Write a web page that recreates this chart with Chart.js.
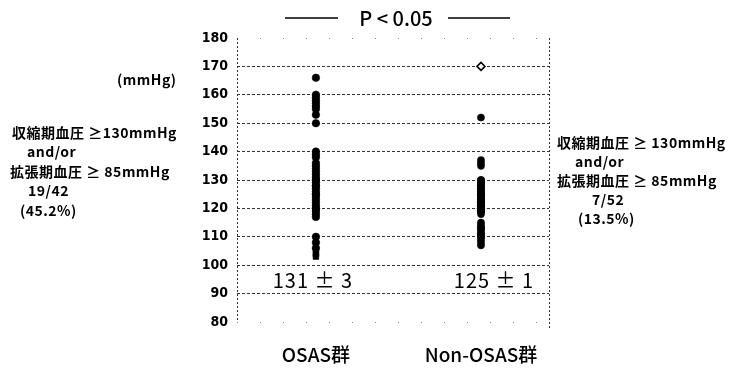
<!DOCTYPE html>
<html>
<head>
<meta charset="utf-8">
<script src="https://cdn.jsdelivr.net/npm/chart.js@4.4.1/dist/chart.umd.min.js"></script>
<style>
  html, body { margin: 0; padding: 0; background: #fff; }
</style>
</head>
<body>
<canvas id="myChart" width="732" height="370"></canvas>
<script>
// categories and tick range
var groups = ['OSAS群', 'Non-OSAS群'];
var yMin = 80, yMax = 180, yStep = 10;

// systolic BP (mmHg)
var osasValues = [166, 160, 159, 158, 157, 156, 155, 153, 150,
  140, 139, 138, 136, 135, 134, 133, 132, 131, 130, 130,
  129, 128, 128, 127, 126, 125, 125, 124, 123, 122, 121, 120, 120, 119, 118, 117,
  110, 108, 106];
var osasSquare = [104, 104, 103];
var nonOsasValues = [152, 137, 136, 135,
  130, 130, 129, 129, 128, 128, 127, 127, 126, 126, 125, 125, 125,
  124, 124, 124, 123, 123, 123, 122, 122, 122, 121, 121, 121,
  120, 120, 120, 120, 119, 119, 119, 118,
  115, 114, 113, 113, 112, 111, 111, 110, 110, 109, 108, 107];
var nonOsasDiamond = [170];
var nonOsasOpenSquare = [114, 112];

var meanLabels = ['131 ± 3', '125 ± 1'];
var leftNote = ['収縮期血圧 ≥130mmHg', 'and/or', '拡張期血圧 ≥ 85mmHg', '19/42', '(45.2%)'];
var rightNote = ['収縮期血圧 ≥ 130mmHg', 'and/or', '拡張期血圧 ≥ 85mmHg', '7/52', '(13.5%)'];

function pts(values, x) {
  return values.map(function(v) { return {x: x, y: v}; });
}

var jpFont = "'Noto Sans CJK JP', 'Noto Sans', sans-serif";
var numFont = "'Liberation Sans Narrow', 'DejaVu Sans Condensed', 'Liberation Sans', sans-serif";

var extras = {
  id: 'extras',
  beforeDatasetsDraw: function(chart) {
    var ctx = chart.ctx, a = chart.chartArea;
    ctx.save();
    ctx.strokeStyle = '#333';
    ctx.lineWidth = 1;
    ctx.setLineDash([2, 2]);
    ctx.beginPath();
    ctx.moveTo(a.left + 0.5, a.top);
    ctx.lineTo(a.left + 0.5, a.bottom);
    ctx.moveTo(a.right + 0.5, a.top);
    ctx.lineTo(a.right + 0.5, a.bottom + 6);
    ctx.stroke();
    ctx.restore();
  },
  afterDraw: function(chart) {
    var ctx = chart.ctx;
    var xs = chart.scales.x, ys = chart.scales.y;
    ctx.save();
    ctx.fillStyle = '#000';
    ctx.textBaseline = 'middle';

    // P < 0.05 header
    ctx.font = '500 20px ' + jpFont;
    ctx.textAlign = 'center';
    ctx.fillText('P < 0.05', 396, 18);
    ctx.strokeStyle = '#000';
    ctx.lineWidth = 1.3;
    ctx.beginPath();
    ctx.moveTo(285, 18); ctx.lineTo(338, 18);
    ctx.moveTo(448, 18); ctx.lineTo(510, 18);
    ctx.stroke();

    // unit
    ctx.font = 'bold 14px ' + jpFont;
    ctx.textAlign = 'left';
    ctx.letterSpacing = '0.5px';
    ctx.fillText('(mmHg)', 117, 80);

    // side notes
    var lx = [12, 27, 10, 28, 20], ly = [133, 152, 172, 191, 211];
    leftNote.forEach(function(t, i) { ctx.fillText(t, lx[i], ly[i]); });
    var rx = [557, 575, 557, 592, 578], ry = [143, 162, 181, 200, 219];
    rightNote.forEach(function(t, i) { ctx.fillText(t, rx[i], ry[i]); });

    // mean +- SE under each group
    ctx.letterSpacing = '1px';
    ctx.font = '20px ' + jpFont;
    ctx.textAlign = 'center';
    ctx.fillText(meanLabels[0], xs.getPixelForValue(0) - 3, ys.getPixelForValue(94.5));
    ctx.fillText(meanLabels[1], xs.getPixelForValue(1) + 13, ys.getPixelForValue(94.5));
    ctx.restore();
  }
};

var ctx = document.getElementById('myChart').getContext('2d');
var chart = new Chart(ctx, {
  type: 'scatter',
  data: {
    datasets: [
      { data: pts(osasValues, 0), pointStyle: 'circle', pointRadius: 3.8,
        backgroundColor: '#000', borderColor: '#000', borderWidth: 0.5 },
      { data: pts(osasSquare, 0), pointStyle: 'rect', pointRadius: 4,
        backgroundColor: '#000', borderColor: '#000', borderWidth: 0.5 },
      { data: pts(nonOsasValues, 1), pointStyle: 'circle', pointRadius: 3.6,
        backgroundColor: '#000', borderColor: '#000', borderWidth: 0.5 },
      { data: pts(nonOsasDiamond, 1), pointStyle: 'rectRot', pointRadius: 4,
        backgroundColor: '#fff', borderColor: '#000', borderWidth: 1.5 },
      { data: pts(nonOsasOpenSquare, 1), pointStyle: 'rect', pointRadius: 3.5,
        backgroundColor: '#fff', borderColor: '#000', borderWidth: 1.5 }
    ]
  },
  options: {
    responsive: false,
    animation: false,
    devicePixelRatio: 1,
    layout: { padding: { left: 0, right: 183, top: 38, bottom: 0 } },
    plugins: { legend: { display: false }, tooltip: { enabled: false } },
    scales: {
      x: {
        type: 'linear',
        min: -0.478,
        max: 1.412,
        afterBuildTicks: function(s) { s.ticks = [{value: 0}, {value: 1}]; },
        afterFit: function(s) { s.height = 48; },
        ticks: {
          autoSkip: false,
          maxRotation: 0,
          padding: 21,
          color: '#000',
          font: { family: jpFont, size: 19, weight: '500' },
          callback: function(v) { return groups[v]; }
        },
        grid: { display: false, drawTicks: false },
        border: { display: false }
      },
      y: {
        min: yMin,
        max: yMax,
        afterFit: function(s) { s.width = 237; },
        ticks: {
          stepSize: yStep,
          padding: 9,
          color: '#000',
          font: { family: numFont, size: 14, weight: 'bold' }
        },
        grid: {
          drawTicks: false,
          lineWidth: 1,
          color: function(c) {
            var v = c.tick && c.tick.value;
            return (v === yMin || v === yMax) ? '#888' : '#333';
          }
        },
        border: {
          display: false,
          dash: function(c) {
            var v = c.tick && c.tick.value;
            return (v === yMin || v === yMax) ? [1, 22] : [3, 2];
          }
        }
      }
    }
  },
  plugins: [extras]
});
</script>
</body>
</html>
